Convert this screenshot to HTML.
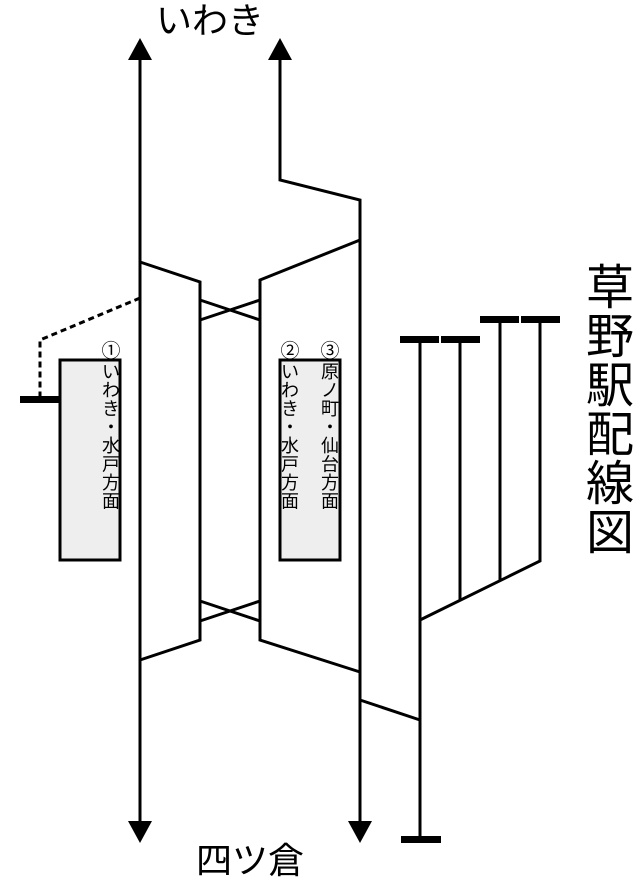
<!DOCTYPE html>
<html><head><meta charset="utf-8"><style>
html,body{margin:0;padding:0;background:#fff;}
svg{display:block;}
text{font-family:"Liberation Sans","Noto Sans CJK JP",sans-serif;fill:#000;}
</style></head><body>
<svg width="640" height="880" viewBox="0 0 640 880" xmlns="http://www.w3.org/2000/svg">
<g fill="none" stroke="#000" stroke-width="3" stroke-linejoin="miter">
<line x1="140" y1="52" x2="140" y2="830"/>
<polyline points="280,52 280,180 360,200 360,830"/>
<polyline points="140,262 200,282 200,640 140,660"/>
<polyline points="360,240 260,280 260,640 360,672"/>
<line x1="200" y1="300" x2="260" y2="320"/>
<line x1="200" y1="320" x2="260" y2="300"/>
<line x1="200" y1="601" x2="260" y2="621"/>
<line x1="200" y1="621" x2="260" y2="601"/>
<line x1="360" y1="700" x2="420" y2="720"/>
<line x1="420" y1="340" x2="420" y2="840"/>
<polyline points="420,620 540,561 540,320"/>
<line x1="460" y1="340" x2="460" y2="601"/>
<line x1="500" y1="320" x2="500" y2="581"/>
<polyline points="140,298 40,340 40,400" stroke-dasharray="6,4"/>
</g>
<g fill="#000">
<polygon points="140,38 128,60 152,60"/>
<polygon points="280,38 268,60 292,60"/>
<polygon points="140,843 128,821 152,821"/>
<polygon points="360,843 348,821 372,821"/>
<rect x="20" y="396" width="40" height="7"/>
<rect x="400" y="336" width="39" height="7"/>
<rect x="441" y="336" width="39" height="7"/>
<rect x="480" y="316" width="39" height="7"/>
<rect x="521" y="316" width="39" height="7"/>
<rect x="401" y="836" width="40" height="7"/>
</g>
<rect x="60" y="360" width="60" height="200" fill="#eee" stroke="#000" stroke-width="3"/>
<rect x="280" y="360" width="60" height="200" fill="#eee" stroke="#000" stroke-width="3"/>
<g font-size="19" text-anchor="middle">
<text x="111" y="357">①</text>
<text x="290" y="357">②</text>
<text x="330" y="357">③</text>
</g>
<g font-size="18" text-anchor="middle">
<text x="111" y="378">い</text><text x="111" y="396.5">わ</text><text x="111" y="415">き</text><text x="111" y="433.5">・</text><text x="111" y="452">水</text><text x="111" y="470.5">戸</text><text x="111" y="489">方</text><text x="111" y="507.5">面</text>
<text x="290" y="378">い</text><text x="290" y="396.5">わ</text><text x="290" y="415">き</text><text x="290" y="433.5">・</text><text x="290" y="452">水</text><text x="290" y="470.5">戸</text><text x="290" y="489">方</text><text x="290" y="507.5">面</text>
<text x="330" y="378">原</text><text x="330" y="396.5">ノ</text><text x="330" y="415">町</text><text x="330" y="433.5">・</text><text x="330" y="452">仙</text><text x="330" y="470.5">台</text><text x="330" y="489">方</text><text x="330" y="507.5">面</text>
</g>
<g font-size="36" text-anchor="middle">
<text x="210" y="33">いわき</text>
<text x="250" y="873">四ツ倉</text>
</g>
<g font-size="48" text-anchor="middle">
<text x="610" y="304">草</text><text x="610" y="353">野</text><text x="610" y="402">駅</text><text x="610" y="451">配</text><text x="610" y="500">線</text><text x="610" y="549">図</text>
</g>
</svg>
</body></html>
